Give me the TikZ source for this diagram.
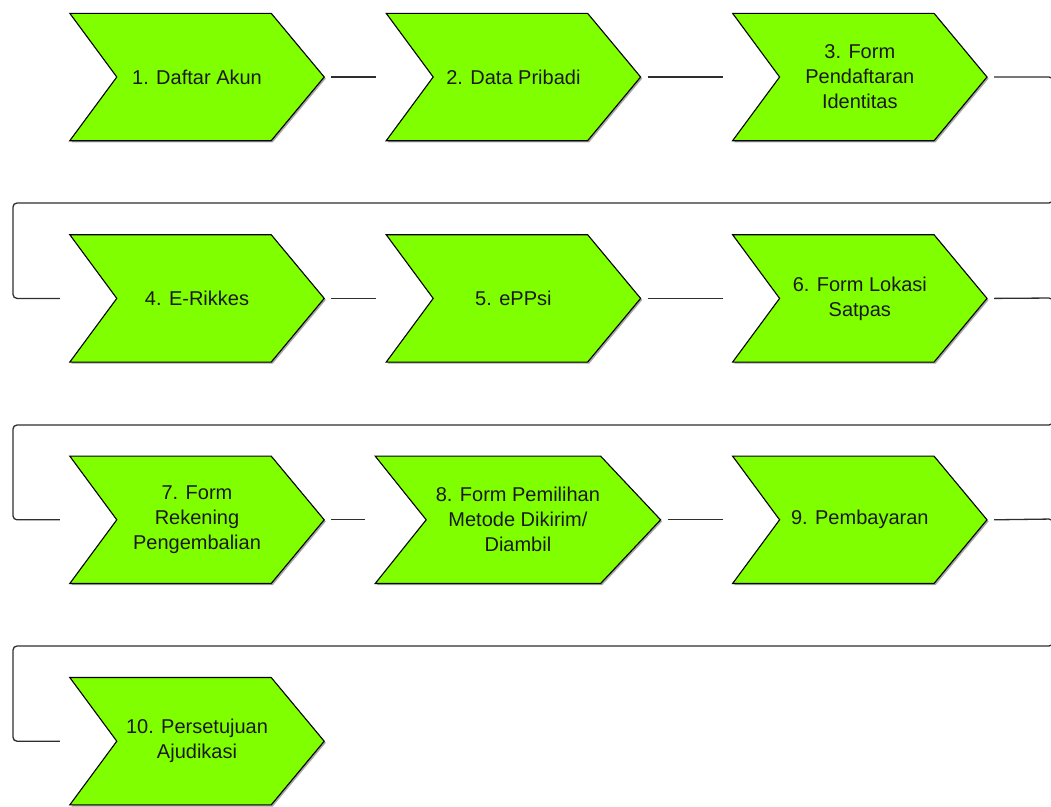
\documentclass[tikz,border=0pt]{standalone}
\usepackage{fontspec}
\setmainfont{Liberation Sans}
\usetikzlibrary{positioning, backgrounds, shadows}
\definecolor{stepGreen}{HTML}{80FF00}
\definecolor{stepInk}{HTML}{1A1A1A}
\definecolor{wireGrey}{HTML}{2E2E2E}

\begin{document}
\begin{tikzpicture}[x=1pt, y=-1pt,
    font=\fontsize{20}{25}\selectfont,
    stepbox/.style={rectangle, inner sep=0pt, minimum width=254pt, minimum height=127pt, align=center, text=stepInk},
    chevron/.style={draw=black, line width=1.1pt, fill=stepGreen, line join=miter,
      drop shadow={shadow xshift=1.6pt, shadow yshift=-1.6pt, fill=black, opacity=0.35}},
    wire/.style={draw=wireGrey, line width=1.3pt, rounded corners=4pt}]
  \useasboundingbox (0,0) rectangle (1051,806);
  \clip (0,0) rectangle (1051,806);
  % row 1
  \node[stepbox] (c1) at (197,77) {1. Daftar Akun};
  \node[stepbox, right=62pt of c1] (c2) {2. Data Pribadi};
  \node[stepbox, right=92pt of c2] (c3) {3. Form\\Pendaftaran\\Identitas};
  % row 2
  \node[stepbox, below=94pt of c1] (c4) {4. E-Rikkes};
  \node[stepbox, below=94pt of c2] (c5) {5. ePPsi};
  \node[stepbox, below=94pt of c3] (c6) {6. Form Lokasi\\Satpas};
  % row 3
  \node[stepbox, below=94pt of c4] (c7) {7. Form\\Rekening\\Pengembalian};
  \node[stepbox, minimum width=285pt, right=51pt of c7] (c8) {8. Form Pemilihan\\Metode Dikirim/\\Diambil};
  \node[stepbox, below=94pt of c6] (c9) {9. Pembayaran};
  % row 4
  \node[stepbox, below=94pt of c7] (c10) {10. Persetujuan\\Ajudikasi};
  % chevron outlines behind the labels
  \begin{scope}[on background layer]
    \foreach \n/\tip/\notch in {c1/53/47, c2/53/47, c3/53/47, c4/53/47, c5/53/47,
        c6/53/47, c7/53/47, c8/60/51, c9/53/47, c10/53/47}
      \draw[chevron] (\n.north west) -- ([xshift=-\tip]\n.north east) -- (\n.east)
        -- ([xshift=-\tip]\n.south east) -- (\n.south west) -- ([xshift=\notch]\n.west) -- cycle;
  \end{scope}
  % connectors
  \draw[wire] ([xshift=7pt]c1.east) -- ([xshift=-10pt]c2.west);
  \draw[wire] ([xshift=7pt]c2.east) -- ([xshift=-10pt]c3.west);
  \draw[wire] ([xshift=7pt]c3.east) -- (1053,77) |- (13,203) |- ([xshift=-10pt]c4.west);
  \draw[wire] ([xshift=7pt]c4.east) -- ([xshift=-10pt]c5.west);
  \draw[wire] ([xshift=7pt]c5.east) -- ([xshift=-10pt]c6.west);
  \draw[wire] ([xshift=7pt]c6.east) -- (1053,298) |- (13,425) |- ([xshift=-10pt]c7.west);
  \draw[wire] ([xshift=7pt]c7.east) -- ([xshift=-10pt]c8.west);
  \draw[wire] ([xshift=7pt]c8.east) -- ([xshift=-10pt]c9.west);
  \draw[wire] ([xshift=7pt]c9.east) -- (1053,519) |- (13,646) |- ([xshift=-10pt]c10.west);
\end{tikzpicture}
\end{document}
